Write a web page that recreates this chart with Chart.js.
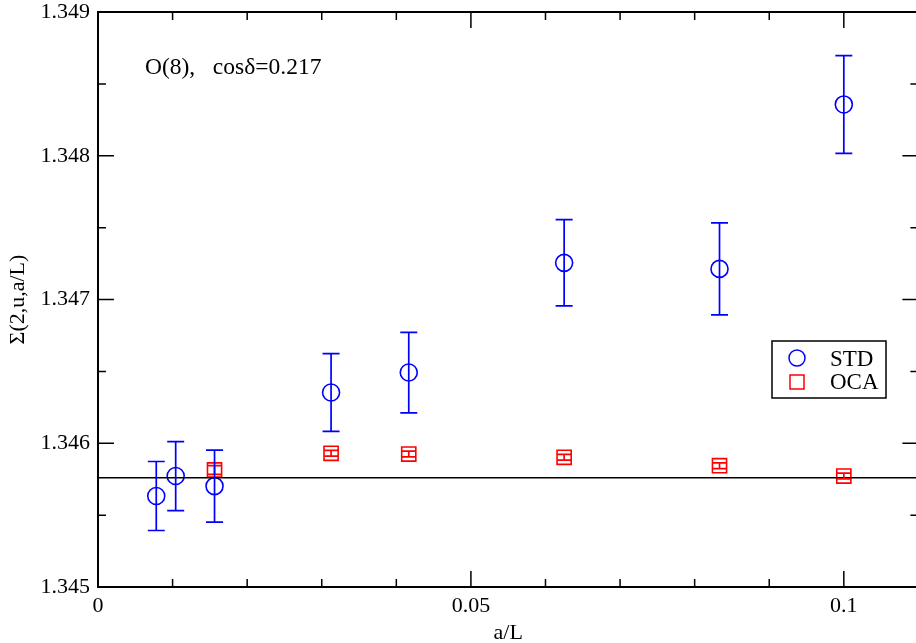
<!DOCTYPE html>
<html>
<head>
<meta charset="utf-8">
<script src="https://cdn.jsdelivr.net/npm/chart.js@4/dist/chart.umd.min.js"></script>
<style>
html,body{margin:0;padding:0;background:#fff;overflow:hidden;}
#wrap{width:930px;height:643px;position:relative;}
</style>
</head>
<body>
<div id="wrap"><canvas id="c"></canvas></div>
<script>
// data
const stdX = [1/128, 1/96, 1/64, 1/32, 1/24, 1/16, 1/12, 1/10];
const stdY = [1.345633, 1.345772, 1.345702, 1.346353, 1.346492, 1.347255, 1.347213, 1.348357];
const stdErr = [0.00024, 0.00024, 0.00025, 0.00027, 0.00028, 0.00030, 0.00032, 0.00034];

const ocaX = [1/64, 1/32, 1/24, 1/16, 1/12, 1/10];
const ocaY = [1.345814, 1.345930, 1.345925, 1.345902, 1.345844, 1.345772];
const ocaErr = [0.00003, 0.00002, 0.00002, 0.00002, 0.00002, 0.00002];

const fitValue = 1.34576;
const xRange = [0, 0.11];
const yRange = [1.345, 1.349];

const xTicks = [0, 0.05, 0.1];
const xTickLabels = ["0", "0.05", "0.1"];
const xMinor = [0.01, 0.02, 0.03, 0.04, 0.06, 0.07, 0.08, 0.09];
const yTicks = [1.345, 1.346, 1.347, 1.348, 1.349];
const yTickLabels = ["1.345", "1.346", "1.347", "1.348", "1.349"];
const yMinor = [1.3455, 1.3465, 1.3475, 1.3485];

const FONT = "'Liberation Serif', 'DejaVu Serif', serif";

/* error bars */
const errorBars = {
  id: "errorBars",
  afterDatasetsDraw(chart){
    const ctx = chart.ctx;
    const ys = chart.scales.y;
    chart.data.datasets.forEach((ds,i)=>{
      if(!ds.errors) return;
      const meta = chart.getDatasetMeta(i);
      ctx.save();
      ctx.strokeStyle = ds.borderColor;
      ctx.lineWidth = 1.7;
      meta.data.forEach((pt,j)=>{
        const v = ds.data[j].y, e = ds.errors[j];
        const top = ys.getPixelForValue(v+e);
        const bot = ys.getPixelForValue(v-e);
        const w = ds.capWidth/2;
        ctx.beginPath();
        ctx.moveTo(pt.x, top); ctx.lineTo(pt.x, bot);
        ctx.moveTo(pt.x-w, top); ctx.lineTo(pt.x+w, top);
        ctx.moveTo(pt.x-w, bot); ctx.lineTo(pt.x+w, bot);
        ctx.stroke();
      });
      ctx.restore();
    });
  }
};

/* frame, inward ticks, text, legend */
const decor = {
  id: "decor",
  beforeDatasetsDraw(chart){
    const ctx = chart.ctx;
    const a = chart.chartArea;
    const xs = chart.scales.x, ys = chart.scales.y;
    ctx.save();
    ctx.strokeStyle = "#000";
    ctx.lineWidth = 2;
    ctx.strokeRect(a.left, a.top, a.right-a.left, a.bottom-a.top);
    ctx.lineWidth = 1.5;
    ctx.beginPath();
    const xt = (vals,len)=>vals.forEach(v=>{
      const px = xs.getPixelForValue(v);
      ctx.moveTo(px, a.bottom); ctx.lineTo(px, a.bottom-len);
      ctx.moveTo(px, a.top); ctx.lineTo(px, a.top+len);
    });
    const yt = (vals,len)=>vals.forEach(v=>{
      const py = ys.getPixelForValue(v);
      ctx.moveTo(a.left, py); ctx.lineTo(a.left+len, py);
      ctx.moveTo(a.right, py); ctx.lineTo(a.right-len, py);
    });
    xt(xTicks,16); xt(xMinor,8);
    yt(yTicks,16); yt(yMinor,8);
    ctx.stroke();

    // annotation
    ctx.fillStyle = "#000";
    ctx.font = "23.5px " + FONT;
    ctx.textBaseline = "middle";
    ctx.textAlign = "left";
    ctx.fillText("O(8),   cos\u03b4=0.217", 145, 68);

    // legend
    ctx.font = "23px " + FONT;
    ctx.lineWidth = 1.5;
    ctx.strokeRect(772, 341, 114, 57);
    ctx.fillText("STD", 830, 360);
    ctx.fillText("OCA", 830, 383);
    ctx.strokeStyle = "#0000ff";
    ctx.beginPath(); ctx.arc(797, 358, 8, 0, Math.PI*2); ctx.stroke();
    ctx.strokeStyle = "#ff0000";
    ctx.strokeRect(790, 375, 14, 14);
    ctx.restore();
  }
};

new Chart(document.getElementById("c"),{
  type:"scatter",
  data:{
    datasets:[
      {
        label:"fit",
        type:"line",
        data:xRange.map(x=>({x:x,y:fitValue})),
        borderColor:"#000",
        borderWidth:1.6,
        pointRadius:0,
        fill:false
      },
      {
        label:"OCA",
        data:ocaX.map((x,i)=>({x:x,y:ocaY[i]})),
        errors:ocaErr,
        capWidth:14,
        pointStyle:"rect",
        pointRadius:10,
        borderColor:"#ff0000",
        backgroundColor:"rgba(0,0,0,0)",
        borderWidth:1.6
      },
      {
        label:"STD",
        data:stdX.map((x,i)=>({x:x,y:stdY[i]})),
        errors:stdErr,
        capWidth:17,
        pointStyle:"circle",
        pointRadius:8.5,
        borderColor:"#0000ff",
        backgroundColor:"rgba(0,0,0,0)",
        borderWidth:1.6
      }
    ]
  },
  options:{
    responsive:true,
    maintainAspectRatio:false,
    animation:false,
    layout:{padding:{left:0,top:12,right:10,bottom:0}},
    plugins:{legend:{display:false},tooltip:{enabled:false}},
    scales:{
      x:{
        type:"linear",
        min:xRange[0], max:xRange[1],
        grid:{display:false},
        border:{display:false},
        afterBuildTicks:s=>{ s.ticks = xTicks.map(v=>({value:v})); },
        afterFit:s=>{ s.height = 56; s.paddingLeft = 0; s.paddingRight = 0; },
        ticks:{
          padding:-2,
          maxRotation:0,
          color:"#000",
          font:{family:FONT,size:22},
          callback:v=>xTickLabels[xTicks.indexOf(v)]
        },
        title:{display:true,text:"a/L",color:"#000",font:{family:FONT,size:22,lineHeight:1},padding:{top:0,bottom:-1}}
      },
      y:{
        type:"linear",
        min:yRange[0], max:yRange[1],
        grid:{display:false},
        border:{display:false},
        afterBuildTicks:s=>{ s.ticks = yTicks.map(v=>({value:v})); },
        afterFit:s=>{ s.width = 98; s.paddingTop = 0; s.paddingBottom = 0; },
        ticks:{
          padding:0,
          color:"#000",
          font:{family:FONT,size:22},
          callback:(v,i)=>yTickLabels[i]
        },
        title:{display:true,text:"\u03a3(2,u,a/L)",color:"#000",font:{family:FONT,size:22,lineHeight:1},padding:{top:7,bottom:0}}
      }
    }
  },
  plugins:[decor,errorBars]
});
</script>
</body>
</html>
